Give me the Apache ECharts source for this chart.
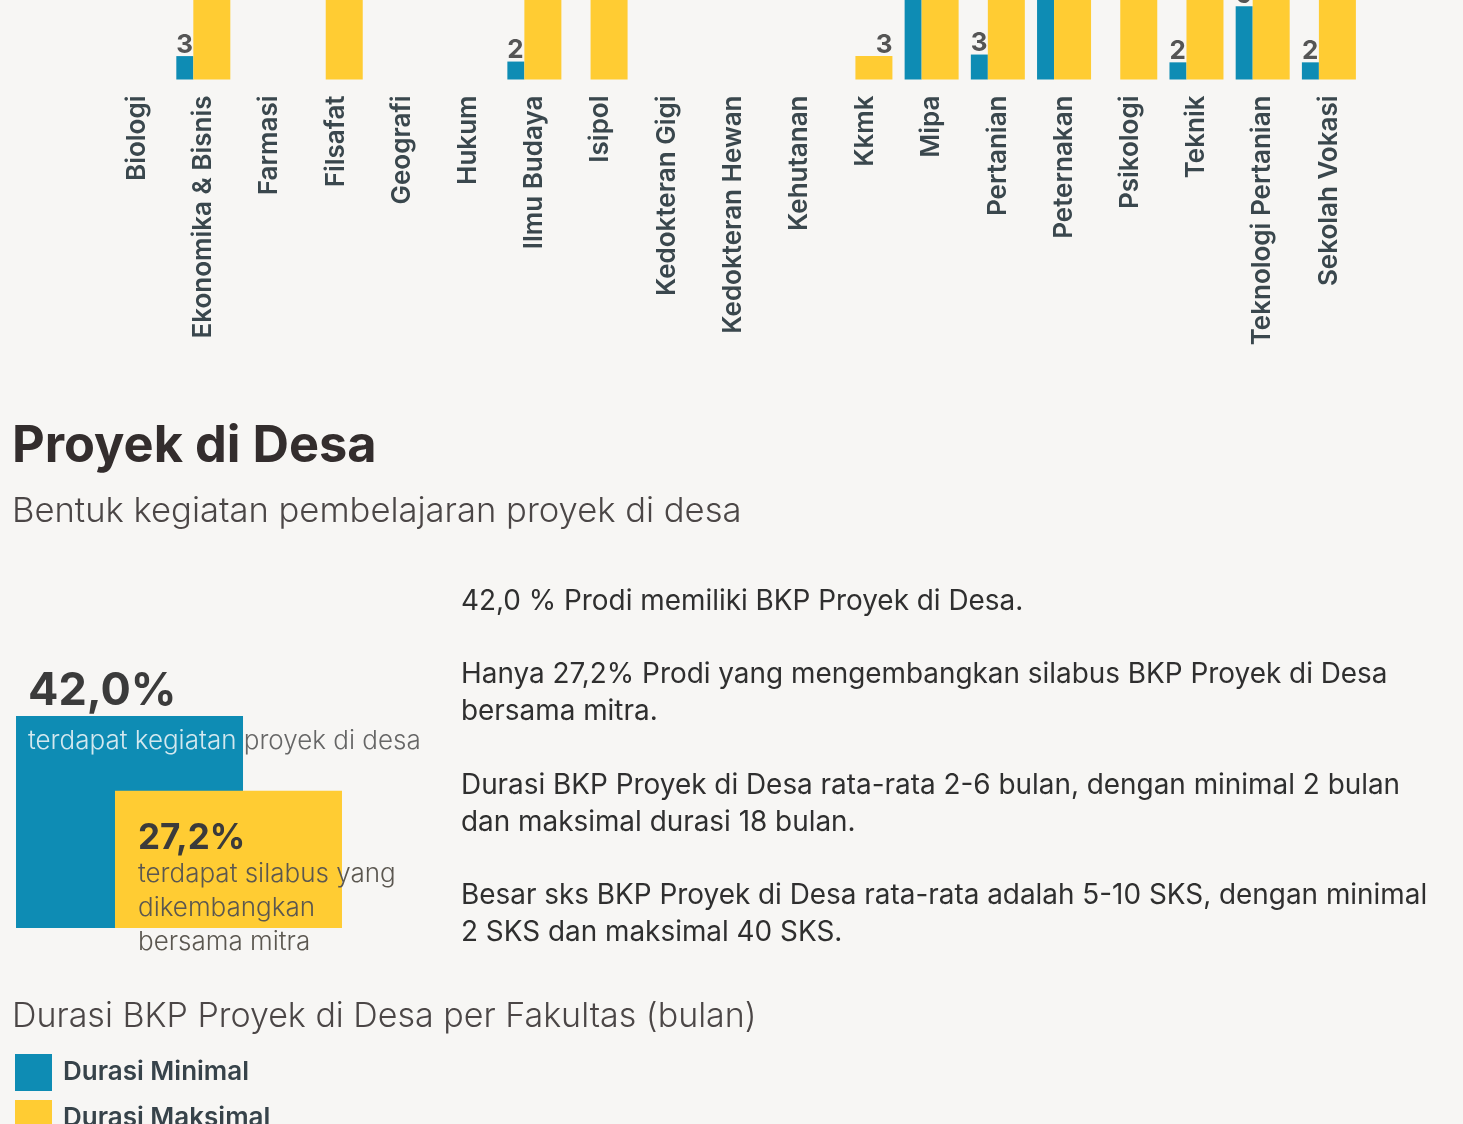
<!DOCTYPE html>
<html>
<head>
<meta charset="utf-8">
<script src="https://cdn.jsdelivr.net/npm/echarts@6.0.0/dist/echarts.min.js"></script>
<style>
html, body { margin: 0; padding: 0; background: #f7f6f4; }
#chart { width: 1463px; height: 1124px; }
</style>
</head>
<body>
<div id="chart"></div>
<script>
// fakultas di grafik atas (bagian atas terpotong di gambar)
var fakultas = ['Biologi', 'Ekonomika & Bisnis', 'Farmasi', 'Filsafat', 'Geografi', 'Hukum',
    'Ilmu Budaya', 'Isipol', 'Kedokteran Gigi', 'Kedokteran Hewan', 'Kehutanan', 'Kkmk',
    'Mipa', 'Pertanian', 'Peternakan', 'Psikologi', 'Teknik', 'Teknologi Pertanian', 'Sekolah Vokasi'];
var nilaiMin = [null, 3.0, null, null, null, null, 2.3, null, null, null, null, null,
    12, 3.2, 12, null, 2.2, 9.4, 2.2];
var nilaiMax = [null, 12, null, 12, null, null, 12, 12, null, null, null, 3.0,
    18, 12, 12, 12, 12, 12, 12];
var namaSeri = ['Durasi Minimal', 'Durasi Maksimal'];

// kotak persentase
var persenNilai = [42.0, 27.2];
var persenTeks = [['terdapat kegiatan', ' proyek di desa'], ['terdapat silabus yang', 'dikembangkan', 'bersama mitra']];

var paragraf = [
    '42,0 % Prodi memiliki BKP Proyek di Desa.',
    '',
    'Hanya 27,2% Prodi yang mengembangkan silabus BKP Proyek di Desa',
    'bersama mitra.',
    '',
    'Durasi BKP Proyek di Desa rata-rata 2-6 bulan, dengan minimal 2 bulan',
    'dan maksimal durasi 18 bulan.',
    '',
    'Besar sks BKP Proyek di Desa rata-rata adalah 5-10 SKS, dengan minimal',
    '2 SKS dan maksimal 40 SKS.'
];

var biru = '#0e8cb4';
var kuning = '#ffcc33';
var huruf = 'Inter, "Noto Sans", sans-serif';

function koma (v) {
    return v.toFixed(1).replace('.', ',') + '%';
}

var chart = echarts.init(document.getElementById('chart'));

var option = {
    backgroundColor: '#f7f6f4',
    animation: false,
    textStyle: { fontFamily: huruf },
    legend: {
        data: namaSeri,
        orient: 'vertical',
        left: 15,
        top: 1054,
        height: 140,
        padding: 0,
        icon: 'rect',
        itemWidth: 37,
        itemHeight: 37,
        itemGap: 9,
        selectedMode: false,
        textStyle: {
            fontFamily: huruf,
            fontSize: 26,
            fontWeight: 600,
            color: '#37434a',
            padding: [3, 0, 0, 6]
        }
    },
    grid: [
        { left: 104, right: 101, top: -700.5, height: 780, containLabel: false, outerBoundsMode: 'none' },
        { left: 16, width: 326, top: 675.5, height: 252.5, containLabel: false, outerBoundsMode: 'none' }
    ],
    xAxis: [
        {
            type: 'category',
            gridIndex: 0,
            data: fakultas,
            axisLine: { show: false },
            axisTick: { show: false },
            axisLabel: {
                rotate: 90,
                margin: 16,
                interval: 0,
                fontFamily: huruf,
                fontSize: 26,
                fontWeight: 600,
                color: '#3a474d'
            }
        },
        {
            type: 'category',
            gridIndex: 1,
            data: ['Proyek di Desa'],
            show: false
        }
    ],
    yAxis: [
        { type: 'value', gridIndex: 0, min: 0, max: 100, show: false },
        { type: 'value', gridIndex: 1, min: 0, max: 50, show: false }
    ],
    series: [
        {
            name: namaSeri[0],
            type: 'bar',
            xAxisIndex: 0,
            yAxisIndex: 0,
            data: nilaiMin,
            barWidth: 17,
            barGap: 0,
            itemStyle: { color: biru },
            label: {
                show: true,
                position: [0, 2],
                align: 'left',
                verticalAlign: 'bottom',
                fontSize: 26,
                fontWeight: 700,
                color: '#555555',
                formatter: function (p) { return Math.round(p.value); }
            }
        },
        {
            name: namaSeri[1],
            type: 'bar',
            xAxisIndex: 0,
            yAxisIndex: 0,
            data: nilaiMax,
            barWidth: 37,
            barGap: 0,
            itemStyle: { color: kuning },
            label: {
                show: true,
                position: ['100%', 2],
                align: 'right',
                verticalAlign: 'bottom',
                fontSize: 26,
                fontWeight: 700,
                color: '#555555',
                formatter: function (p) { return Math.round(p.value); }
            }
        },
        {
            type: 'bar',
            xAxisIndex: 1,
            yAxisIndex: 1,
            data: [persenNilai[0]],
            barWidth: 227,
            barGap: '-56.4%',
            itemStyle: { color: biru },
            label: {
                show: true,
                position: [12, -49],
                align: 'left',
                verticalAlign: 'top',
                formatter: function (p) {
                    return '{v|' + koma(p.value) + '}\n{a|' + persenTeks[0][0] + '}{b|' + persenTeks[0][1] + '}';
                },
                rich: {
                    v: { fontSize: 45, fontWeight: 700, color: '#3b3b3b', lineHeight: 50 },
                    a: { fontSize: 26, fontWeight: 300, color: '#d3e8ef', lineHeight: 48 },
                    b: { fontSize: 26, fontWeight: 300, color: '#666666', lineHeight: 48 }
                }
            },
            z: 2
        },
        {
            type: 'bar',
            xAxisIndex: 1,
            yAxisIndex: 1,
            data: [persenNilai[1]],
            barWidth: 227,
            barGap: '-56.4%',
            itemStyle: { color: kuning },
            label: {
                show: true,
                position: [23, 29],
                align: 'left',
                verticalAlign: 'top',
                formatter: function (p) {
                    return '{v|' + koma(p.value) + '}\n{a|' + persenTeks[1].join('}\n{a|') + '}';
                },
                rich: {
                    v: { fontSize: 35, fontWeight: 700, color: '#3b3b3b', lineHeight: 38 },
                    a: { fontSize: 26, fontWeight: 300, color: '#5b5750', lineHeight: 34 }
                }
            },
            z: 3
        }
    ],
    graphic: [
        {
            type: 'text', left: 12, top: 421,
            style: { text: 'Proyek di Desa', fontFamily: huruf, fontSize: 50.5, fontWeight: 700, fill: '#332d2d' }
        },
        {
            type: 'text', left: 12, top: 494,
            style: { text: 'Bentuk kegiatan pembelajaran proyek di desa', fontFamily: huruf, fontSize: 34.6, fontWeight: 300, fill: '#4b4646' }
        },
        {
            type: 'text', left: 461, top: 583,
            style: { text: paragraf.join('\n'), fontFamily: huruf, fontSize: 27.9, fontWeight: 400, fill: '#2f2f2f', lineHeight: 36.8 }
        },
        {
            type: 'text', left: 12, top: 1000,
            style: { text: 'Durasi BKP Proyek di Desa per Fakultas (bulan)', fontFamily: huruf, fontSize: 34, fontWeight: 300, fill: '#4b4646' }
        }
    ]
};

chart.setOption(option);
</script>
</body>
</html>
